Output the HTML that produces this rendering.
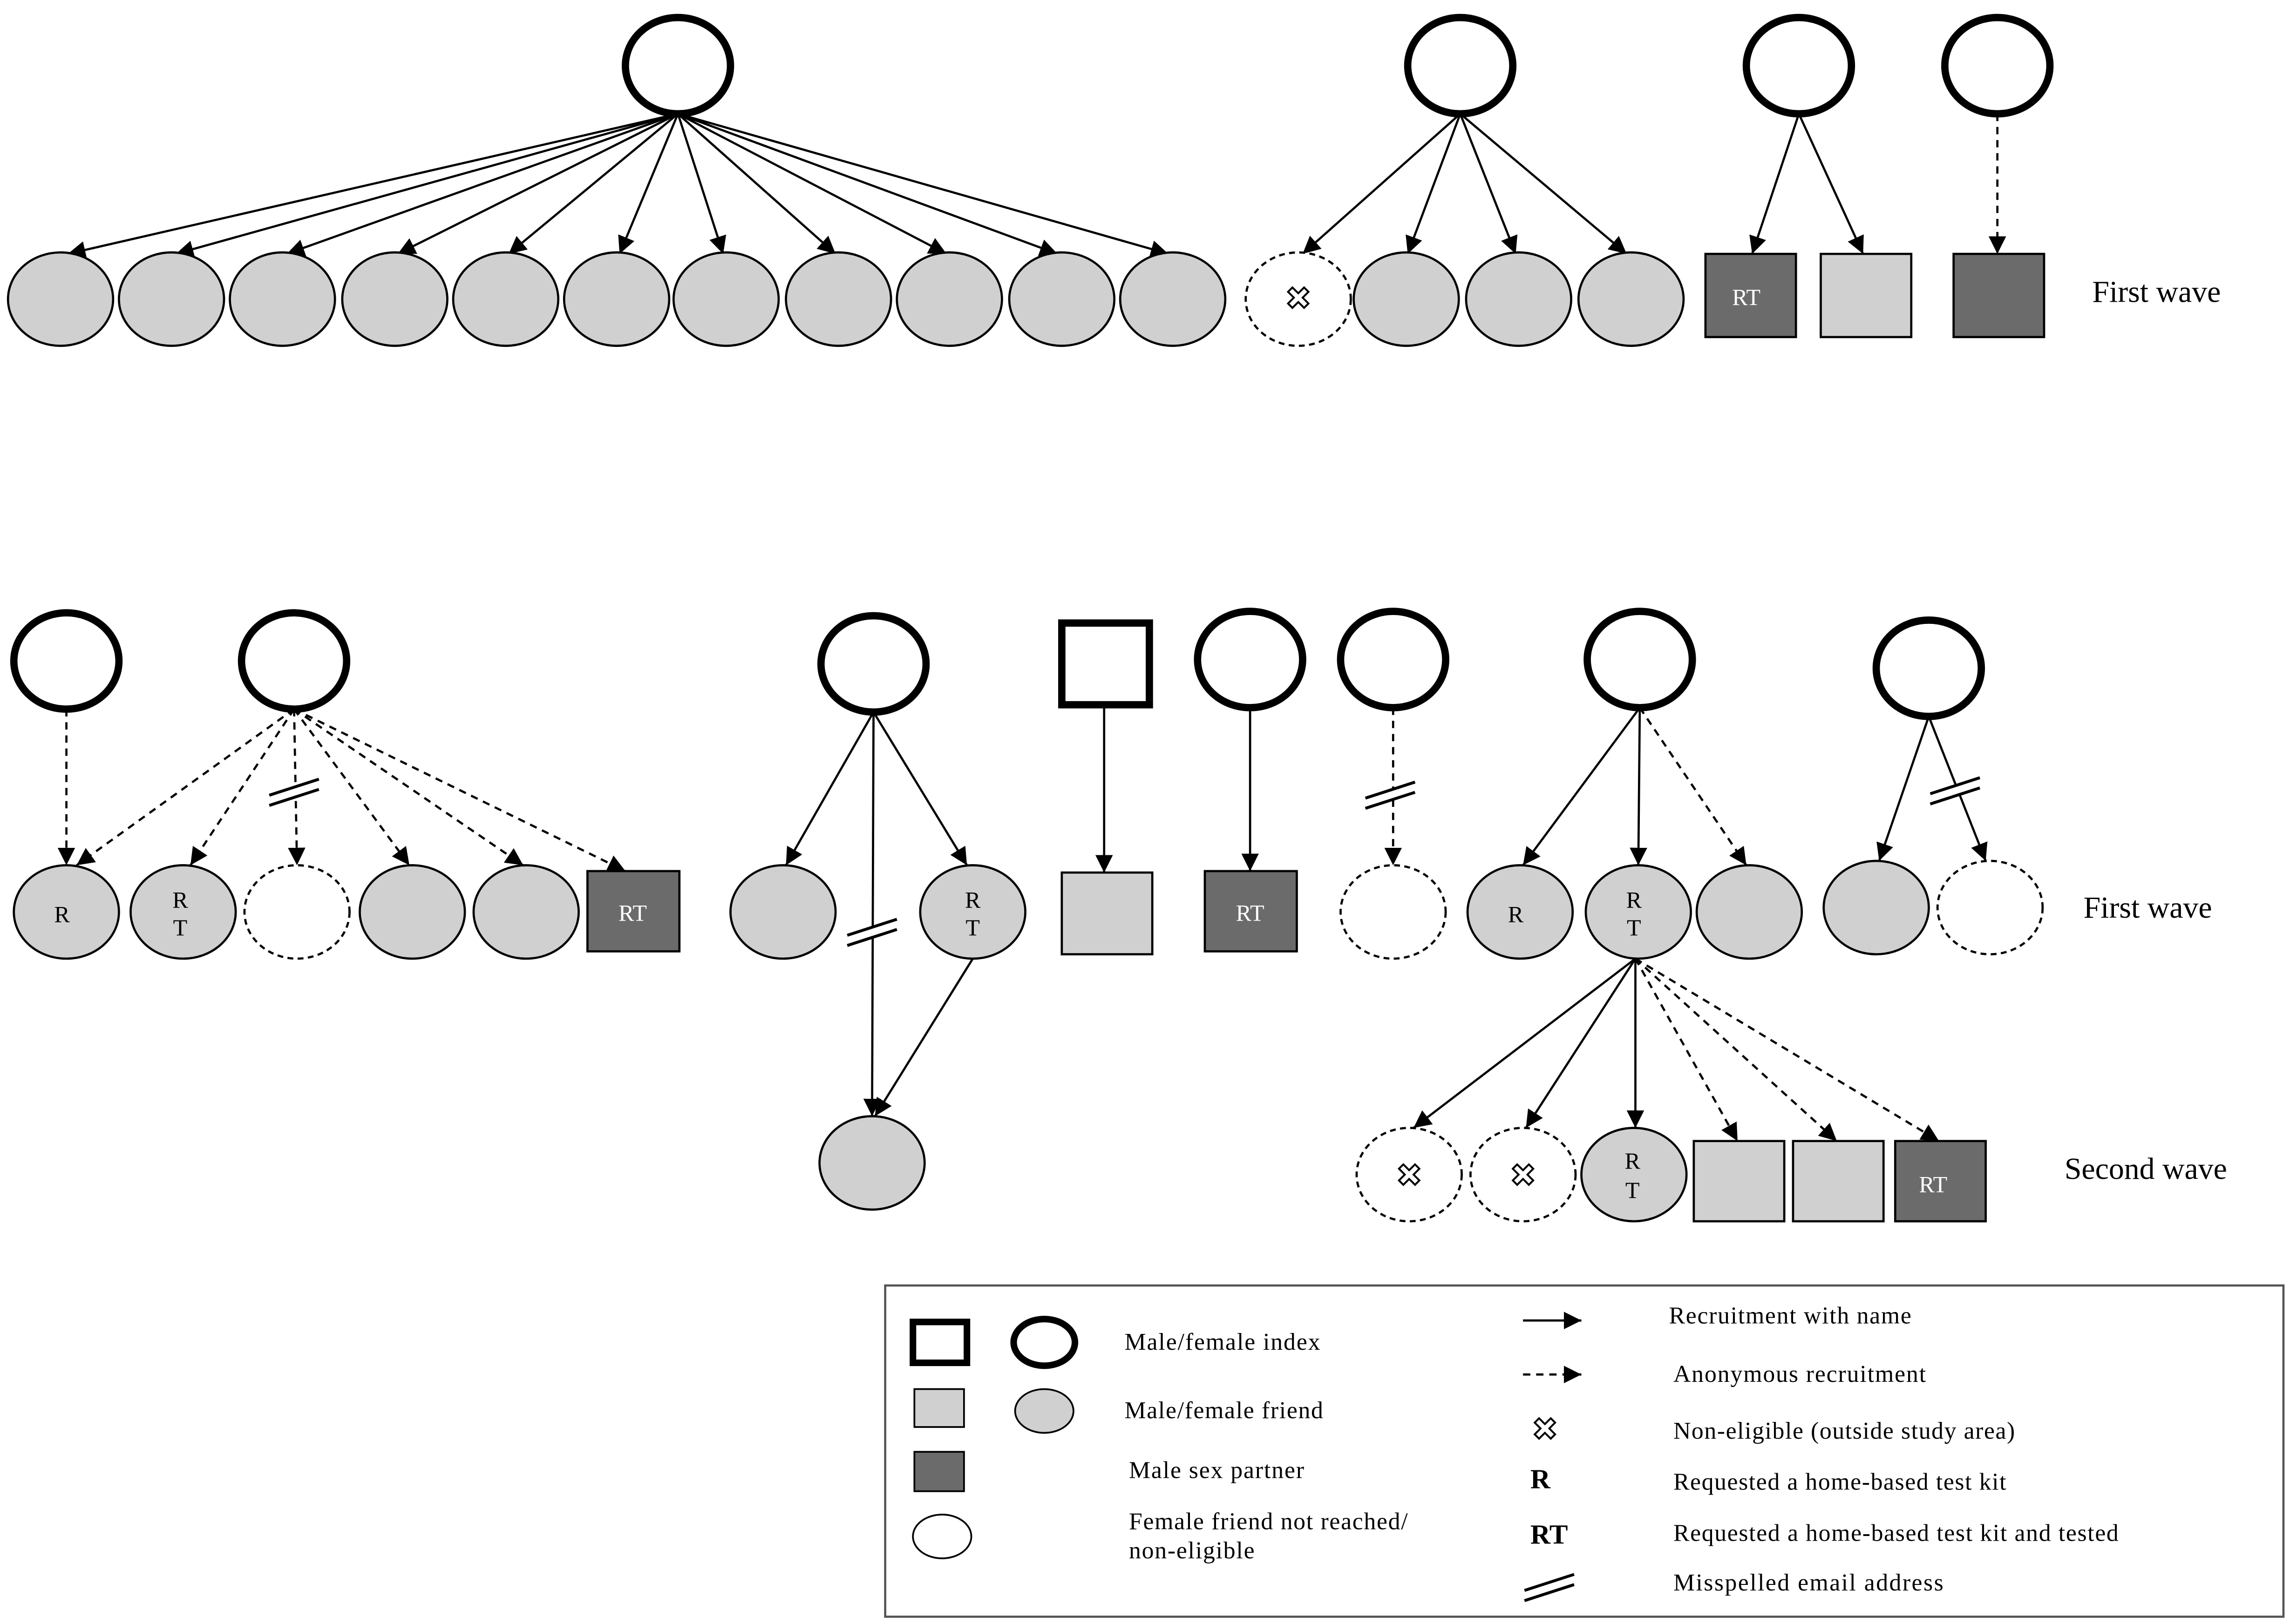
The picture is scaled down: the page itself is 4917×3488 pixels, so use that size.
<!DOCTYPE html>
<html><head><meta charset="utf-8"><style>html,body{margin:0;padding:0;background:#fff}svg{display:block}</style></head><body>
<svg width="4917" height="3488" viewBox="0 0 1568 1113" xmlns="http://www.w3.org/2000/svg" font-family="Liberation Serif, serif">
<defs>
<marker id="a" viewBox="0 0 10 10" refX="10" refY="5" markerWidth="12" markerHeight="12" markerUnits="userSpaceOnUse" orient="auto"><path d="M0,0L10,5L0,10z" fill="#000"/></marker>
<g id="x"><path d="M-7,-4L-4,-7L0,-3L4,-7L7,-4L3,0L7,4L4,7L0,3L-4,7L-7,4L-3,0z" fill="#fff" stroke="#000" stroke-width="1.3"/></g>
<g id="ms"><polygon points="-17,-1 17,-12 17,-5 -17,6" fill="#fff" stroke="none"/><line x1="-17" y1="-1" x2="17" y2="-12" stroke="#000" stroke-width="2"/><line x1="-17" y1="6" x2="17" y2="-5" stroke="#000" stroke-width="2"/></g>
</defs>
<rect width="1568" height="1113" fill="#fff"/>
<g stroke="#000" stroke-width="1.5" fill="none" marker-end="url(#a)">
<line x1="464" y1="78" x2="46" y2="174"/><line x1="464" y1="78" x2="120" y2="174"/><line x1="464" y1="78" x2="196" y2="174"/><line x1="464" y1="78" x2="272" y2="174"/><line x1="464" y1="78" x2="348" y2="174"/><line x1="464" y1="78" x2="424" y2="174"/><line x1="464" y1="78" x2="495" y2="174"/><line x1="464" y1="78" x2="572" y2="174"/><line x1="464" y1="78" x2="648" y2="174"/><line x1="464" y1="78" x2="724" y2="174"/><line x1="464" y1="78" x2="800" y2="174"/>
<line x1="1000" y1="78" x2="892" y2="174"/><line x1="1000" y1="78" x2="964" y2="174"/><line x1="1000" y1="78" x2="1038" y2="174"/><line x1="1000" y1="78" x2="1114" y2="174"/>
<line x1="1232" y1="78" x2="1200" y2="174"/><line x1="1232" y1="78" x2="1276" y2="174"/>
<line x1="1368" y1="78" x2="1368" y2="174" stroke-dasharray="5,4"/>
<line x1="45" y1="486" x2="45" y2="593" stroke-dasharray="5,4"/>
<g stroke-dasharray="5,4"><line x1="201" y1="486" x2="52" y2="593"/><line x1="201" y1="486" x2="130" y2="593"/><line x1="201" y1="486" x2="203" y2="593"/><line x1="201" y1="486" x2="280" y2="593"/><line x1="201" y1="486" x2="358" y2="593"/><line x1="201" y1="486" x2="428" y2="597"/></g>
<line x1="598" y1="488" x2="538" y2="593"/><line x1="598" y1="488" x2="662" y2="593"/><line x1="598" y1="488" x2="597" y2="765"/><line x1="666" y1="657" x2="599" y2="765"/>
<line x1="756" y1="483" x2="756" y2="598"/>
<line x1="856" y1="485" x2="856" y2="597"/>
<line x1="954" y1="485" x2="954" y2="593" stroke-dasharray="5,4"/>
<line x1="1123" y1="485" x2="1043" y2="593"/><line x1="1123" y1="485" x2="1122" y2="593"/><line x1="1123" y1="485" x2="1196" y2="593" stroke-dasharray="5,4"/>
<line x1="1321" y1="491" x2="1287" y2="590"/><line x1="1321" y1="491" x2="1360" y2="590"/>
<line x1="1120" y1="657" x2="968" y2="773"/><line x1="1120" y1="657" x2="1045" y2="773"/><line x1="1120" y1="657" x2="1120" y2="773"/>
<g stroke-dasharray="5,4"><line x1="1120" y1="657" x2="1190" y2="782"/><line x1="1120" y1="657" x2="1258" y2="782"/><line x1="1120" y1="657" x2="1328" y2="782"/></g>
</g>
<use href="#ms" x="201" y="546"/><use href="#ms" x="597" y="642"/><use href="#ms" x="952" y="548"/><use href="#ms" x="1339" y="545"/>
<g fill="#fff" stroke="#000" stroke-width="5">
<ellipse cx="464" cy="45" rx="36" ry="33"/><ellipse cx="1000" cy="45" rx="36" ry="33"/><ellipse cx="1232" cy="45" rx="36" ry="33"/><ellipse cx="1368" cy="45" rx="36" ry="33"/>
<ellipse cx="45" cy="453" rx="36" ry="33"/><ellipse cx="201" cy="453" rx="36" ry="33"/><ellipse cx="598" cy="455" rx="36" ry="33"/><rect x="727" y="427" width="60" height="56"/><ellipse cx="856" cy="452" rx="36" ry="33"/><ellipse cx="954" cy="452" rx="36" ry="33"/><ellipse cx="1123" cy="452" rx="36" ry="33"/><ellipse cx="1321" cy="458" rx="36" ry="33"/>
</g>
<g fill="#d0d0d0" stroke="#000" stroke-width="1.5">
<ellipse cx="41" cy="205" rx="36" ry="32"/><ellipse cx="117" cy="205" rx="36" ry="32"/><ellipse cx="193" cy="205" rx="36" ry="32"/><ellipse cx="270" cy="205" rx="36" ry="32"/><ellipse cx="346" cy="205" rx="36" ry="32"/><ellipse cx="422" cy="205" rx="36" ry="32"/><ellipse cx="497" cy="205" rx="36" ry="32"/><ellipse cx="574" cy="205" rx="36" ry="32"/><ellipse cx="650" cy="205" rx="36" ry="32"/><ellipse cx="727" cy="205" rx="36" ry="32"/><ellipse cx="803" cy="205" rx="36" ry="32"/>
<ellipse cx="963" cy="205" rx="36" ry="32"/><ellipse cx="1040" cy="205" rx="36" ry="32"/><ellipse cx="1117" cy="205" rx="36" ry="32"/>
<rect x="1247" y="174" width="62" height="57"/>
<ellipse cx="45" cy="625" rx="36" ry="32"/><ellipse cx="125" cy="625" rx="36" ry="32"/><ellipse cx="282" cy="625" rx="36" ry="32"/><ellipse cx="360" cy="625" rx="36" ry="32"/>
<ellipse cx="536" cy="625" rx="36" ry="32"/><ellipse cx="666" cy="625" rx="36" ry="32"/><ellipse cx="597" cy="797" rx="36" ry="32"/>
<rect x="727" y="598" width="62" height="56"/>
<ellipse cx="1041" cy="625" rx="36" ry="32"/><ellipse cx="1122" cy="625" rx="36" ry="32"/><ellipse cx="1198" cy="625" rx="36" ry="32"/><ellipse cx="1285" cy="622" rx="36" ry="32"/>
<ellipse cx="1119" cy="805" rx="36" ry="32"/><rect x="1160" y="782" width="62" height="55"/><rect x="1228" y="782" width="62" height="55"/>
</g>
<g fill="#6b6b6b" stroke="#000" stroke-width="1.5">
<rect x="1168" y="174" width="62" height="57"/><rect x="1338" y="174" width="62" height="57"/><rect x="402" y="597" width="63" height="55"/><rect x="825" y="597" width="63" height="55"/><rect x="1298" y="782" width="62" height="55"/>
</g>
<g fill="#fff" stroke="#000" stroke-width="1.5" stroke-dasharray="4,3">
<ellipse cx="889" cy="205" rx="36" ry="32"/><ellipse cx="203" cy="625" rx="36" ry="32"/><ellipse cx="954" cy="625" rx="36" ry="32"/><ellipse cx="1363" cy="622" rx="36" ry="32"/><ellipse cx="965" cy="805" rx="36" ry="32"/><ellipse cx="1043" cy="805" rx="36" ry="32"/>
</g>
<use href="#x" x="889" y="204"/><use href="#x" x="965" y="805"/><use href="#x" x="1043" y="805"/>
<g font-size="16" text-anchor="middle">
<text x="1196" y="209" fill="#fff">RT</text><text x="433" y="631" fill="#fff">RT</text><text x="856" y="631" fill="#fff">RT</text><text x="1324" y="817" fill="#fff">RT</text>
<text x="42" y="632">R</text><text x="1038" y="632">R</text>
<text x="123" y="622">R</text><text x="123" y="641">T</text>
<text x="666" y="622">R</text><text x="666" y="641">T</text>
<text x="1119" y="622">R</text><text x="1119" y="641">T</text>
<text x="1118" y="801">R</text><text x="1118" y="821">T</text>
</g>
<g font-size="21">
<text x="1433" y="207">First wave</text><text x="1427" y="629">First wave</text><text x="1414" y="808">Second wave</text>
</g>
<rect x="606" y="881" width="958" height="227" fill="#fff" stroke="#555" stroke-width="1.5"/>
<rect x="625" y="906" width="37" height="28" fill="#fff" stroke="#000" stroke-width="4.5"/>
<ellipse cx="715" cy="920" rx="21" ry="16" fill="#fff" stroke="#000" stroke-width="4.5"/>
<rect x="626" y="952" width="34" height="26" fill="#d0d0d0" stroke="#000" stroke-width="1.2"/>
<ellipse cx="715" cy="967" rx="20" ry="15" fill="#d0d0d0" stroke="#000" stroke-width="1.2"/>
<rect x="626" y="995" width="34" height="27" fill="#6b6b6b" stroke="#000" stroke-width="1.2"/>
<ellipse cx="645" cy="1053" rx="20" ry="15" fill="#fff" stroke="#000" stroke-width="1.2"/>
<g font-size="16.5">
<text x="770" y="925" textLength="134">Male/female index</text>
<text x="770" y="972" textLength="136">Male/female friend</text>
<text x="773" y="1013" textLength="120">Male sex partner</text>
<text x="773" y="1048" textLength="191">Female friend not reached/</text>
<text x="773" y="1068" textLength="86">non-eligible</text>
<text x="1143" y="907" textLength="166">Recruitment with name</text>
<text x="1146" y="947" textLength="173">Anonymous recruitment</text>
<text x="1146" y="986" textLength="234">Non-eligible (outside study area)</text>
<text x="1146" y="1021" textLength="228">Requested a home-based test kit</text>
<text x="1146" y="1056" textLength="305">Requested a home-based test kit and tested</text>
<text x="1146" y="1090" textLength="185">Misspelled  email address</text>
<text x="1048" y="1020" font-weight="bold" font-size="19">R</text>
<text x="1048" y="1058" font-weight="bold" font-size="19">RT</text>
</g>
<g stroke="#000" stroke-width="1.5" marker-end="url(#a)">
<line x1="1043" y1="905" x2="1083" y2="905"/>
<line x1="1043" y1="942" x2="1083" y2="942" stroke-dasharray="5,4"/>
</g>
<use href="#x" x="1058" y="979"/>
<use href="#ms" x="1061" y="1091"/>
</svg>
</body></html>
